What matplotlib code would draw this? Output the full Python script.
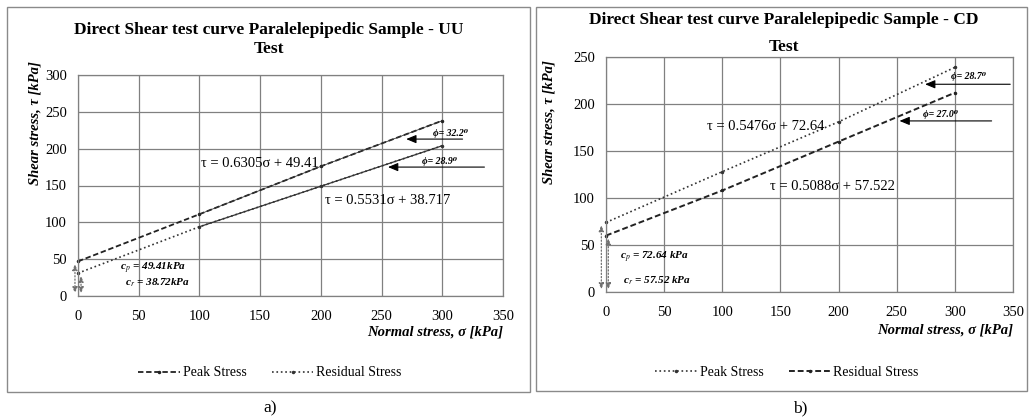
import matplotlib
matplotlib.use("Agg")
import matplotlib.pyplot as plt
from matplotlib.patches import Rectangle

plt.rcParams['font.family'] = ['Liberation Serif', 'DejaVu Serif']
plt.rcParams['mathtext.fontset'] = 'stix'

# ---------------- data ----------------
sigma = [0, 100, 200, 300]
xticks = [0, 50, 100, 150, 200, 250, 300, 350]

# a) UU test
uu_peak = [47, 111, 176, 238]
uu_resid = [31, 94, 149, 204]
uu_yticks = [0, 50, 100, 150, 200, 250, 300]
uu_eq_peak = "τ = 0.6305σ + 49.41"
uu_eq_resid = "τ = 0.5531σ + 38.717"
uu_phi_peak = "ϕ= 32.2⁰"
uu_phi_resid = "ϕ= 28.9⁰"
uu_cp = "c$_p$ = 49.41kPa"
uu_cr = "c$_r$ = 38.72kPa"

# b) CD test
cd_peak = [74, 128, 181, 239]
cd_resid = [60, 108, 160, 212]
cd_yticks = [0, 50, 100, 150, 200, 250]
cd_eq_peak = "τ = 0.5476σ + 72.64"
cd_eq_resid = "τ = 0.5088σ + 57.522"
cd_phi_peak = "ϕ= 28.7⁰"
cd_phi_resid = "ϕ= 27.0⁰"
cd_cp = "c$_p$ = 72.64 kPa"
cd_cr = "c$_r$ = 57.52 kPa"

W, H = 1031, 417
fig = plt.figure(figsize=(W / 100, H / 100), dpi=100)

def fx(px):
    return px / W

def fy(py):
    return 1 - py / H

GRID = '#808080'

# panel borders
for (x0, y0, x1, y1) in [(7, 7, 530, 392), (536, 7, 1027, 391)]:
    fig.patches.append(Rectangle((fx(x0), fy(y1)), fx(x1 - x0), (y1 - y0) / H,
                                 transform=fig.transFigure, fill=False,
                                 edgecolor='#8a8a8a', linewidth=1.0))

def style_axes(ax, yticks, ymax):
    ax.set_xlim(0, 350)
    ax.set_ylim(0, ymax)
    ax.set_xticks(xticks)
    ax.set_yticks(yticks)
    ax.grid(True, color=GRID, linewidth=0.9)
    ax.set_axisbelow(True)
    for s in ax.spines.values():
        s.set_color(GRID)
        s.set_linewidth(0.9)
    ax.tick_params(length=0, labelsize=10.5, pad=8)
    ax.tick_params(axis='x', pad=10)

legkw = dict(loc='center', ncol=2, frameon=False, fontsize=10,
             handlelength=3.0, columnspacing=1.8, handletextpad=0.2)

# ---------------- a) ----------------
ax1 = fig.add_axes([fx(78), fy(296), fx(503 - 78), (296 - 75) / H])
style_axes(ax1, uu_yticks, 300)
ax1.plot(sigma, uu_peak, linestyle=(0, (3, 1.5)), color='#222222', lw=1.3,
         marker='.', ms=3, label='Peak Stress', clip_on=False)
ax1.plot(sigma, uu_resid, linestyle=':', color='#333333', lw=1.2,
         marker='.', ms=3, label='Residual Stress', clip_on=False)
ax1.plot(sigma[1:], uu_peak[1:], '-', color='#333333', lw=0.6)
ax1.plot(sigma[1:], uu_resid[1:], '-', color='#333333', lw=0.9)

ax1.text(150, 180, uu_eq_peak, fontsize=10.5, ha='center', va='center')
ax1.text(255, 129, uu_eq_resid, fontsize=10.5, ha='center', va='center')

arrowkw = dict(arrowstyle='-|>,head_length=0.6,head_width=0.25', color='black', lw=0.8)
ax1.annotate('', xy=(268, 213), xytext=(319, 213), arrowprops=arrowkw)
ax1.annotate('', xy=(253, 175), xytext=(337, 175), arrowprops=arrowkw, annotation_clip=False)
ax1.text(307, 221, uu_phi_peak, fontsize=7, style='italic', weight='bold',
         ha='center', va='center')
ax1.text(298, 182, uu_phi_resid, fontsize=7, style='italic', weight='bold',
         ha='center', va='center')

ax1.text(35, 37, uu_cp, fontsize=8, style='italic', weight='bold', ha='left', va='center')
ax1.text(39, 18, uu_cr, fontsize=8, style='italic', weight='bold', ha='left', va='center')

dblkw = dict(arrowstyle='<|-|>,head_length=0.35,head_width=0.15', color='#707070',
             lw=0.9, linestyle=':')
ax1.annotate('', xy=(-2.5, 0), xytext=(-2.5, uu_peak[0]), arrowprops=dblkw,
             annotation_clip=False)
ax1.annotate('', xy=(2.5, 0), xytext=(2.5, uu_resid[0]), arrowprops=dblkw,
             annotation_clip=False)

fig.text(fx(269), fy(30), "Direct Shear test curve Paralelepipedic Sample - UU",
         fontsize=12.5, weight='bold', ha='center', va='center')
fig.text(fx(269), fy(49), "Test", fontsize=12.5, weight='bold', ha='center', va='center')
fig.text(fx(35), fy(123), "Shear stress, τ [kPa]", rotation=90, fontsize=10.5,
         style='italic', weight='bold', ha='center', va='center')
fig.text(fx(503), fy(332), "Normal stress, σ [kPa]", fontsize=10.5,
         style='italic', weight='bold', ha='right', va='center')

h1, l1 = ax1.get_legend_handles_labels()
fig.legend(h1, l1, bbox_to_anchor=(fx(270), fy(373)), **legkw)
fig.text(fx(270), fy(408), "a)", fontsize=12.5, ha='center', va='center')

# ---------------- b) ----------------
ax2 = fig.add_axes([fx(606), fy(292), fx(1013 - 606), (292 - 57) / H])
style_axes(ax2, cd_yticks, 250)
ax2.plot(sigma, cd_peak, linestyle=':', color='#333333', lw=1.2,
         marker='.', ms=3, label='Peak Stress', clip_on=False)
ax2.plot(sigma, cd_resid, linestyle=(0, (3, 1.5)), color='#222222', lw=1.4,
         marker='.', ms=3, label='Residual Stress', clip_on=False)

ax2.text(137, 176, cd_eq_peak, fontsize=10.5, ha='center', va='center')
ax2.text(195, 112, cd_eq_resid, fontsize=10.5, ha='center', va='center')

ax2.annotate('', xy=(272, 221), xytext=(350, 221), arrowprops=arrowkw, annotation_clip=False)
ax2.annotate('', xy=(250, 182), xytext=(334, 182), arrowprops=arrowkw, annotation_clip=False)
ax2.text(312, 229, cd_phi_peak, fontsize=7, style='italic', weight='bold',
         ha='center', va='center')
ax2.text(288, 189, cd_phi_resid, fontsize=7, style='italic', weight='bold',
         ha='center', va='center')

ax2.text(12, 37, cd_cp, fontsize=8, style='italic', weight='bold', ha='left', va='center')
ax2.text(15, 12, cd_cr, fontsize=8, style='italic', weight='bold', ha='left', va='center')

ax2.annotate('', xy=(-4, 0), xytext=(-4, cd_peak[0]), arrowprops=dblkw,
             annotation_clip=False)
ax2.annotate('', xy=(2, 0), xytext=(2, cd_resid[0]), arrowprops=dblkw,
             annotation_clip=False)

fig.text(fx(784), fy(20), "Direct Shear test curve Paralelepipedic Sample - CD",
         fontsize=12.5, weight='bold', ha='center', va='center')
fig.text(fx(784), fy(47), "Test", fontsize=12.5, weight='bold', ha='center', va='center')
fig.text(fx(549), fy(122), "Shear stress, τ [kPa]", rotation=90, fontsize=10.5,
         style='italic', weight='bold', ha='center', va='center')
fig.text(fx(1013), fy(330), "Normal stress, σ [kPa]", fontsize=10.5,
         style='italic', weight='bold', ha='right', va='center')

h2, l2 = ax2.get_legend_handles_labels()
fig.legend(h2, l2, bbox_to_anchor=(fx(787), fy(372)), **legkw)
fig.text(fx(800), fy(408), "b)", fontsize=12.5, ha='center', va='center')

fig.savefig("out.png", dpi=100)
